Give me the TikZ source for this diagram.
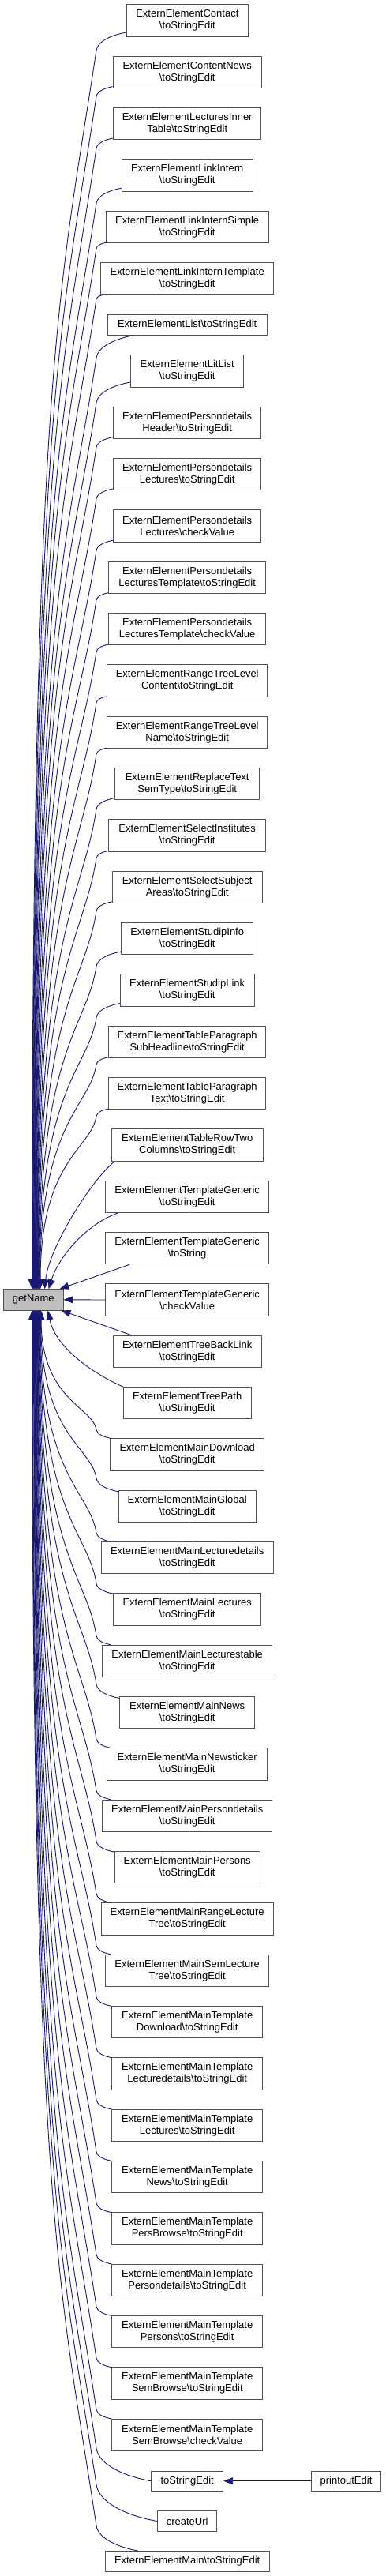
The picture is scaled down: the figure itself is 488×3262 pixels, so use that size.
\documentclass[tikz,border=0pt]{standalone}
\usepackage{fontspec}
\setmainfont{Liberation Sans}
\usetikzlibrary{arrows.meta,calc}
\definecolor{midblue}{RGB}{25,25,112}
\definecolor{boxline}{RGB}{80,80,80}
\definecolor{rootfill}{RGB}{191,191,191}
\newcommand\bs{\textbackslash}
% upper edge: from getName top to node (anchor angle #3)
\newcommand\upedge[3]{%
  \draw[callline] let \p1=(#1.#3), \p2=(gn.north west),
     \n1={0.6*(\x1-122pt)},
     \p3=(122pt,{\y1-\n1}),
     \n2={\y3-\y2},
     \p4=({\x2+(#2)*1pt},\y2)
   in (\p4) .. controls (\x4,{\y3-0.25*\n2}) and ({\x3-0.0285*\n2},{\y3-0.19*\n2}) .. (\p3)
      .. controls ({\x3+0.075*\n1},{\y3+0.5*\n1}) and ({\x1-0.5*(\x1-122pt)},{\y1-0.15*\n1}) .. (\p1);}
\newcommand\downedge[3]{%
  \draw[callline] let \p1=(#1.#3), \p2=(gn.south west),
     \n1={0.6*(\x1-122pt)},
     \p3=(122pt,{\y1+\n1}),
     \n2={\y2-\y3},
     \p4=({\x2+(#2)*1pt},\y2)
   in (\p4) .. controls (\x4,{\y3+0.25*\n2}) and ({\x3-0.0285*\n2},{\y3+0.19*\n2}) .. (\p3)
      .. controls ({\x3+0.075*\n1},{\y3-0.5*\n1}) and ({\x1-0.5*(\x1-122pt)},{\y1+0.15*\n1}) .. (\p1);}
\begin{document}
\begin{tikzpicture}[x=1pt,y=-1pt,
  box/.style={draw=boxline, fill=white, line width=0.9pt, inner sep=0pt,
    minimum height=40.3pt, align=center, font=\fontsize{13}{15}\selectfont},
  sbox/.style={box, minimum height=25.5pt},
  callline/.style={draw=midblue, line width=0.9pt, {Triangle[length=12pt,width=9pt,fill=midblue]}-}]
\useasboundingbox (0,0) rectangle (488,3262);
\fill[white] (0,0) rectangle (488,3262);

\node[sbox, fill=rootfill, minimum width=75.3pt, minimum height=26.3pt] (gn) at (42.35,1645.8) {getName};

\node[box, minimum width=154.7pt] (n1) at (237.35,26) {ExternElementContact\\\bs toStringEdit};
\node[box, minimum width=188.3pt] (n2) at (237.2,91.3) {ExternElementContentNews\\\bs toStringEdit};
\node[box, minimum width=187pt] (n3) at (237.2,156.7) {ExternElementLecturesInner\\Table\bs toStringEdit};
\node[box, minimum width=165.7pt] (n4) at (237.2,222) {ExternElementLinkIntern\\\bs toStringEdit};
\node[box, minimum width=205.7pt] (n5) at (237.2,287.3) {ExternElementLinkInternSimple\\\bs toStringEdit};
\node[box, minimum width=219.4pt] (n6) at (237.2,352.7) {ExternElementLinkInternTemplate\\\bs toStringEdit};
\node[sbox, minimum width=201.7pt] (n7) at (237.2,411.5) {ExternElementList\bs toStringEdit};
\node[box, minimum width=143pt] (n8) at (237.2,470) {ExternElementLitList\\\bs toStringEdit};
\node[box, minimum width=187pt] (n9) at (237.2,535.3) {ExternElementPersondetails\\Header\bs toStringEdit};
\node[box, minimum width=187pt] (n10) at (237.2,600.7) {ExternElementPersondetails\\Lectures\bs toStringEdit};
\node[box, minimum width=187pt] (n11) at (237.2,666) {ExternElementPersondetails\\Lectures\bs checkValue};
\node[box, minimum width=199pt] (n12) at (237.2,731.3) {ExternElementPersondetails\\LecturesTemplate\bs toStringEdit};
\node[box, minimum width=199pt] (n13) at (237.2,796.7) {ExternElementPersondetails\\LecturesTemplate\bs checkValue};
\node[box, minimum width=203pt] (n14) at (237.2,862) {ExternElementRangeTreeLevel\\Content\bs toStringEdit};
\node[box, minimum width=203pt] (n15) at (237.2,927.3) {ExternElementRangeTreeLevel\\Name\bs toStringEdit};
\node[box, minimum width=183pt] (n16) at (237.2,992.7) {ExternElementReplaceText\\SemType\bs toStringEdit};
\node[box, minimum width=199pt] (n17) at (237.2,1058) {ExternElementSelectInstitutes\\\bs toStringEdit};
\node[box, minimum width=189.7pt] (n18) at (237.2,1123.3) {ExternElementSelectSubject\\Areas\bs toStringEdit};
\node[box, minimum width=167.4pt] (n19) at (237.2,1188.7) {ExternElementStudipInfo\\\bs toStringEdit};
\node[box, minimum width=169.7pt] (n20) at (237.2,1254) {ExternElementStudipLink\\\bs toStringEdit};
\node[box, minimum width=199pt] (n21) at (237.2,1319.3) {ExternElementTableParagraph\\SubHeadline\bs toStringEdit};
\node[box, minimum width=199pt] (n22) at (237.2,1384.7) {ExternElementTableParagraph\\Text\bs toStringEdit};
\node[box, minimum width=192pt] (n23) at (237.2,1450) {ExternElementTableRowTwo\\Columns\bs toStringEdit};
\node[box, minimum width=207pt] (n24) at (237.2,1515.3) {ExternElementTemplateGeneric\\\bs toStringEdit};
\node[box, minimum width=207pt] (n25) at (237.2,1580.7) {ExternElementTemplateGeneric\\\bs toString};
\node[box, minimum width=207pt] (n26) at (237.2,1646) {ExternElementTemplateGeneric\\\bs checkValue};
\node[box, minimum width=188.3pt] (n27) at (237.2,1711.3) {ExternElementTreeBackLink\\\bs toStringEdit};
\node[box, minimum width=161.7pt] (n28) at (237.2,1776.7) {ExternElementTreePath\\\bs toStringEdit};
\node[box, minimum width=194.6pt] (n29) at (237.2,1842) {ExternElementMainDownload\\\bs toStringEdit};
\node[box, minimum width=173.7pt] (n30) at (237.2,1907.3) {ExternElementMainGlobal\\\bs toStringEdit};
\node[box, minimum width=218pt] (n31) at (237.2,1972.7) {ExternElementMainLecturedetails\\\bs toStringEdit};
\node[box, minimum width=187pt] (n32) at (237.2,2038) {ExternElementMainLectures\\\bs toStringEdit};
\node[box, minimum width=215pt] (n33) at (237.2,2103.3) {ExternElementMainLecturestable\\\bs toStringEdit};
\node[box, minimum width=171pt] (n34) at (237.2,2168.7) {ExternElementMainNews\\\bs toStringEdit};
\node[box, minimum width=203pt] (n35) at (237.2,2234) {ExternElementMainNewsticker\\\bs toStringEdit};
\node[box, minimum width=215pt] (n36) at (237.2,2299.3) {ExternElementMainPersondetails\\\bs toStringEdit};
\node[box, minimum width=184.3pt] (n37) at (237.2,2364.7) {ExternElementMainPersons\\\bs toStringEdit};
\node[box, minimum width=218pt] (n38) at (237.2,2430) {ExternElementMainRangeLecture\\Tree\bs toStringEdit};
\node[box, minimum width=207pt] (n39) at (237.2,2495.3) {ExternElementMainSemLecture\\Tree\bs toStringEdit};
\node[box, minimum width=191pt] (n40) at (237.2,2560.7) {ExternElementMainTemplate\\Download\bs toStringEdit};
\node[box, minimum width=191pt] (n41) at (237.2,2626) {ExternElementMainTemplate\\Lecturedetails\bs toStringEdit};
\node[box, minimum width=191pt] (n42) at (237.2,2691.3) {ExternElementMainTemplate\\Lectures\bs toStringEdit};
\node[box, minimum width=191pt] (n43) at (237.2,2756.7) {ExternElementMainTemplate\\News\bs toStringEdit};
\node[box, minimum width=191pt] (n44) at (237.2,2822) {ExternElementMainTemplate\\PersBrowse\bs toStringEdit};
\node[box, minimum width=191pt] (n45) at (237.2,2887.3) {ExternElementMainTemplate\\Persondetails\bs toStringEdit};
\node[box, minimum width=191pt] (n46) at (237.2,2952.7) {ExternElementMainTemplate\\Persons\bs toStringEdit};
\node[box, minimum width=191pt] (n47) at (237.2,3018) {ExternElementMainTemplate\\SemBrowse\bs toStringEdit};
\node[box, minimum width=191pt] (n48) at (237.2,3083.3) {ExternElementMainTemplate\\SemBrowse\bs checkValue};
\node[sbox, minimum width=91pt] (n49) at (237.2,3141.7) {toStringEdit};
\node[sbox, minimum width=88.4pt] (n50) at (438.5,3141.7) {printoutEdit};
\node[sbox, minimum width=75.4pt] (n51) at (237.2,3192.5) {createUrl};
\node[sbox, minimum width=208.3pt] (n52) at (237.2,3243.3) {ExternElementMain\bs toStringEdit};

% edges above getName
\foreach \i in {1,...,22} {\upedge{n\i}{36.3+0.5*(\i-1)}{191}}
\draw[callline] ($(gn.north west)+(52.3,0)$) .. controls (62,1580) and (115,1495) .. ($(n23.south west)+(4.4,0)$);
\draw[callline] ($(gn.north west)+(57.3,0)$) .. controls (75,1590) and (110,1550) .. ($(n24.south west)+(16.3,0)$);
\draw[callline] ($(gn.north east)+(-5,0)$) -- ($(n25.south west)+(31,0)$);
\draw[callline] (gn.east) -- (n26.west);
\draw[callline] ($(gn.south east)+(-3,0)$) -- ($(n27.north west)+(24,0)$);
% edges below getName
\draw[callline] ($(gn.south west)+(56.3,0)$) .. controls (70,1705) and (115,1738) .. (n28.north west);
\foreach \i in {29,...,48,52} {\downedge{n\i}{36.3+0.5*(52-\i)}{168}}
\downedge{n49}{37.3}{180}
\downedge{n51}{36.8}{180}
\draw[callline] (n49.east) -- (n50.west);
\end{tikzpicture}
\end{document}
